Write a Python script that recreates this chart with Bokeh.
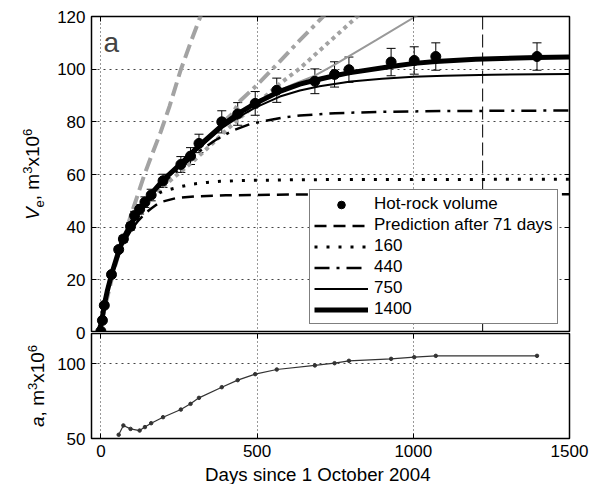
import math
from bokeh.plotting import figure
from bokeh.models import (Range1d, FixedTicker, LinearAxis, Label, Legend, LegendItem,
                          ColumnDataSource, Whisker, TeeHead, Span)
from bokeh.layouts import column, row
from bokeh.embed import file_html
from bokeh.resources import INLINE
from bokeh.core.properties import value

FONT = "Liberation Sans"

# ---------------- data ----------------
obs_days = [0, 5, 11, 34, 57, 72, 95, 108, 124, 141, 161, 199, 256, 287, 314, 387, 438,
            494, 563, 685, 748, 794, 929, 1003, 1072, 1396]
obs_vol = [0.5, 4.6, 10.3, 22.0, 31.5, 35.5, 40.3, 44.4, 46.8, 49.5, 52.2, 57.6, 63.8,
           67.0, 71.8, 80.0, 83.0, 87.0, 92.0, 95.4, 98.0, 99.8, 102.7, 103.3, 104.8, 104.8]
obs_err = [0.3, 0.4, 0.6, 0.8, 1.0, 1.2, 1.4, 1.6, 1.8, 2.0, 2.2, 2.5, 3.0, 3.2, 3.5, 4.2,
           4.3, 4.5, 4.6, 4.7, 4.8, 4.8, 5.2, 5.2, 5.2, 5.2]

# black model curves
c71_t = [-8, 0, 5, 11, 20, 34, 60, 80, 100, 120, 140, 160, 180, 200, 240, 300, 400, 600, 1000, 1500]
c71_v = [0, 3, 6, 10.5, 15.5, 21.5, 30.5, 35.5, 39.5, 42.5, 45, 47, 48.7, 49.8, 51, 51.7, 52.1, 52.4, 52.5, 52.5]

c160_t = [-8, 0, 5, 11, 20, 34, 60, 100, 130, 160, 190, 223, 260, 297, 340, 382, 450, 500, 621, 800, 1000, 1500]
c160_v = [0, 3, 6, 10.5, 15.5, 21.8, 31.7, 41, 46.3, 51.0, 53.2, 54.4, 55.5, 56.4, 57.0, 57.4, 57.7, 57.8, 58.0, 58.1, 58.1, 58.2]

c440_t = [-8, 0, 5, 11, 20, 34, 60, 100, 130, 160, 200, 257, 313, 366, 424, 478, 580, 637, 750, 900, 1100, 1500]
c440_v = [0, 3, 6, 10.5, 15.5, 21.8, 31.7, 41.5, 46.8, 51.7, 56.9, 62.8, 68.6, 73.0, 76.8, 79.2, 81.6, 82.4, 83.3, 83.8, 84.1, 84.3]

c750_t = [-8, 0, 5, 11, 20, 34, 60, 100, 130, 160, 200, 257, 313, 387, 438, 494, 573, 637, 700, 800, 900, 1000, 1100, 1250, 1500]
c750_v = [0, 3, 6, 10.5, 15.5, 21.8, 31.7, 41.6, 47, 52, 57.4, 63.6, 69.9, 77.6, 81.6, 85.4, 89.6, 91.9, 93.5, 95.3, 96.4, 97.1, 97.5, 97.9, 98.2]

c1400_t = [-8, 0, 5, 11, 20, 34, 60, 80, 100, 130, 160, 200, 257, 313, 387, 438, 494, 573, 637, 685, 748, 794, 929, 1003, 1072, 1200, 1396, 1500]
c1400_v = [0, 3, 6, 10.5, 15.5, 22, 32, 37.5, 42, 47.5, 52.5, 58, 64.2, 70.8, 78.6, 83.0, 87.0, 91.6, 94.3, 95.8, 97.5, 98.6, 101.0, 102.2, 102.9, 103.8, 104.4, 104.6]

# grey extrapolation curves
g71_t = [0, 20, 40, 60, 74, 96, 120, 138, 160, 191, 220, 255, 290, 325]
g71_v = [3, 13, 23, 31, 36, 44.5, 53, 59.5, 66.5, 76, 86, 99.5, 111, 122]

g160_t = [160, 200, 250, 300, 350, 403, 450, 500, 573, 637, 732, 830]
g160_v = [51.5, 55.5, 60.5, 65.5, 71, 77, 82, 87, 94.5, 100.3, 110.5, 121]

g440_t = [387, 420, 446, 500, 573, 637, 716]
g440_v = [79.5, 83, 88, 94, 103, 111, 120.5]

g750_t = [500, 573, 620, 679, 750, 800, 881, 1010, 1020]
g750_v = [87.5, 92, 94.5, 97.2, 101.8, 105.3, 111, 120.2, 120.8]

# asymptote a versus time (lower panel)
a_days = [57, 72, 95, 124, 141, 161, 199, 256, 287, 314, 387, 438, 494, 563, 685, 748,
          794, 929, 1003, 1072, 1396]
a_vals = [52.5, 58.7, 56.4, 55.3, 57.6, 60.2, 64.2, 69.3, 73.1, 77.1, 84.2, 88.9, 92.9,
          96.0, 98.7, 100.2, 101.8, 103.1, 104.2, 105.1, 105.1]

mark_day = 1222

x_ticks = [0, 500, 1000, 1500]
v_ticks = [0, 20, 40, 60, 80, 100, 120]
a_ticks = [50, 100]

legend_labels = ["Hot-rock volume", "Prediction after 71 days", "160", "440", "750", "1400"]
x_title = "Days since 1 October 2004"

GREY = "#a3a3a3"

# ---------------- layout geometry (pixels) ----------------
STRIP_W = 89          # left text strip
MAIN_W = 509          # plot column
TOP_H = 332
BOT_H = 131
TITLE_H = 21
TOTAL_H = TOP_H + BOT_H + TITLE_H
FRAME_L = 2           # inside plot column
FRAME_R = 29
TOP_T = 16
TOP_FRAME_H = TOP_H - TOP_T
BOT_FRAME_H = 105
X0, X1 = -30, 1500
V0, V1 = 0, 120
A0, A1 = 50, 120


def style_axis(ax, ticks, show_labels):
    ax.ticker = FixedTicker(ticks=ticks)
    ax.major_tick_in = 5
    ax.major_tick_out = 0
    ax.minor_tick_line_color = None
    ax.axis_line_color = None
    ax.major_tick_line_color = "black"
    ax.major_tick_line_width = 1
    if show_labels:
        ax.major_label_text_font = FONT
        ax.major_label_text_font_size = "17px"
        ax.major_label_text_color = "black"
        ax.major_label_standoff = 6
    else:
        ax.major_label_text_font_size = "1px"
        ax.major_label_text_color = None
        ax.major_label_standoff = 0


def hidden_axis(p, ticks, side):
    a = LinearAxis()
    style_axis(a, ticks, False)
    p.add_layout(a, side)


# ---------------- top panel ----------------
top = figure(width=MAIN_W, height=TOP_H, x_range=Range1d(X0, X1), y_range=Range1d(V0, V1),
             output_backend="svg", toolbar_location=None, x_axis_location=None,
             min_border_left=FRAME_L, min_border_right=FRAME_R, min_border_top=TOP_T,
             min_border_bottom=0)
top.outline_line_color = "black"
top.outline_line_width = 1.5
style_axis(top.yaxis[0], v_ticks, False)
hidden_axis(top, v_ticks, "right")
hidden_axis(top, x_ticks, "above")

top.xgrid.ticker = FixedTicker(ticks=[0, 500, 1000])
top.xgrid.grid_line_color = "#333333"
top.xgrid.grid_line_dash = "1 3"
top.ygrid.ticker = FixedTicker(ticks=[20, 40, 60, 80, 100])
top.ygrid.grid_line_color = "#444444"
top.ygrid.grid_line_dash = "2 4"

top.add_layout(Span(location=mark_day, dimension="height", line_color="black",
                    line_width=1, line_dash="13 5"))

# grey curves
top.line(g71_t, g71_v, line_color=GREY, line_width=4, line_dash="14 6")
top.line(g160_t, g160_v, line_color=GREY, line_width=4, line_dash="4 4")
top.line(g440_t, g440_v, line_color=GREY, line_width=4, line_dash="14 5 4 5")
top.line(g750_t, g750_v, line_color="#999999", line_width=2)

# black curves
r71 = top.line(c71_t, c71_v, line_color="black", line_width=2.5, line_dash="12 7")
r160 = top.line(c160_t, c160_v, line_color="black", line_width=3, line_dash="3 9")
r440 = top.line(c440_t, c440_v, line_color="black", line_width=2.5, line_dash="15 7 3 7")
r750 = top.line(c750_t, c750_v, line_color="black", line_width=2)
r1400 = top.line(c1400_t, c1400_v, line_color="black", line_width=5)

src = ColumnDataSource(data=dict(
    x=obs_days, y=obs_vol,
    upper=[v + e for v, e in zip(obs_vol, obs_err)],
    lower=[v - e for v, e in zip(obs_vol, obs_err)]))
top.add_layout(Whisker(source=src, base="x", upper="upper", lower="lower",
                       line_color="black", line_width=1,
                       upper_head=TeeHead(size=9, line_color="black", line_width=1),
                       lower_head=TeeHead(size=9, line_color="black", line_width=1)))
rpts = top.scatter("x", "y", source=src, size=10, marker="circle",
                   fill_color="black", line_color="black")

legend = Legend(items=[LegendItem(label=legend_labels[0], renderers=[rpts]),
                       LegendItem(label=legend_labels[1], renderers=[r71]),
                       LegendItem(label=legend_labels[2], renderers=[r160]),
                       LegendItem(label=legend_labels[3], renderers=[r440]),
                       LegendItem(label=legend_labels[4], renderers=[r750]),
                       LegendItem(label=legend_labels[5], renderers=[r1400])],
                location=(218, 8))
legend.label_text_font = FONT
legend.label_text_font_size = "17px"
legend.label_text_color = "black"
legend.glyph_width = 54
legend.glyph_height = 19
legend.label_height = 19
legend.spacing = 1
legend.padding = 4
legend.margin = 0
legend.label_standoff = 6
legend.border_line_color = "black"
legend.border_line_width = 1.5
legend.background_fill_alpha = 1
top.add_layout(legend)

top.add_layout(Label(x=12, y=290, x_units="screen", y_units="screen", text="a",
                     text_font=FONT, text_font_size="28px", text_baseline="alphabetic"))

# ---------------- bottom panel ----------------
bot = figure(width=MAIN_W, height=BOT_H, x_range=top.x_range, y_range=Range1d(A0, A1),
             output_backend="svg", toolbar_location=None,
             min_border_left=FRAME_L, min_border_right=FRAME_R, min_border_top=1,
             min_border_bottom=BOT_H - 1 - BOT_FRAME_H)
bot.outline_line_color = "black"
bot.outline_line_width = 1.5
style_axis(bot.yaxis[0], a_ticks, False)
style_axis(bot.xaxis[0], x_ticks, True)
hidden_axis(bot, a_ticks, "right")
hidden_axis(bot, x_ticks, "above")

bot.xgrid.ticker = FixedTicker(ticks=[0, 500, 1000])
bot.xgrid.grid_line_color = "#333333"
bot.xgrid.grid_line_dash = "1 3"
bot.ygrid.ticker = FixedTicker(ticks=[100])
bot.ygrid.grid_line_color = "#444444"
bot.ygrid.grid_line_dash = "2 4"

bot.line(a_days, a_vals, line_color="#333333", line_width=1.2)
bot.scatter(a_days, a_vals, size=3.5, marker="circle", fill_color="#333333", line_color="#333333")

# ---------------- title strip under the plots ----------------
# text_baseline "middle": centre of the text box sits about 0.35 em above the baseline
tstrip = figure(width=MAIN_W, height=TITLE_H, x_range=Range1d(0, MAIN_W), y_range=Range1d(0, TITLE_H),
                output_backend="svg", toolbar_location=None, x_axis_location=None,
                y_axis_location=None, min_border=0)
tstrip.grid.visible = False
tstrip.outline_line_color = None
tstrip.text(x=[FRAME_L + (MAIN_W - FRAME_L - FRAME_R) / 2], y=[10.5], text=[x_title],
            text_font=value(FONT), text_font_size="18.7px", text_align="center",
            text_baseline="middle", text_color="black")

# ---------------- left strip: tick labels and rotated axis titles ----------------
v_scale = TOP_FRAME_H / (V1 - V0)                 # px per unit, top panel
a_scale = BOT_FRAME_H / (A1 - A0)                 # px per unit, bottom panel
v_bottom_px = TOTAL_H - TOP_H                     # px from canvas bottom to V0
a_bottom_px = TOTAL_H - TOP_H - 1 - BOT_FRAME_H   # px from canvas bottom to A0
lstrip = figure(width=STRIP_W, height=TOTAL_H, x_range=Range1d(0, STRIP_W),
                y_range=Range1d(V0 - v_bottom_px / v_scale, V0 + (TOTAL_H - v_bottom_px) / v_scale),
                output_backend="svg", toolbar_location=None, x_axis_location=None,
                y_axis_location=None, min_border=0)
lstrip.extra_y_ranges = {
    "a": Range1d(A0 - a_bottom_px / a_scale, A0 + (TOTAL_H - a_bottom_px) / a_scale),
    "px": Range1d(0, TOTAL_H)}
lstrip.grid.visible = False
lstrip.outline_line_color = None

TICK_X = STRIP_W - 4
lstrip.text(x=[TICK_X] * len(v_ticks), y=v_ticks, text=[str(t) for t in v_ticks],
            text_font=value(FONT), text_font_size="17px", text_align="right",
            text_baseline="middle", text_color="black")
lstrip.text(x=[TICK_X] * len(a_ticks), y=a_ticks, text=[str(t) for t in a_ticks],
            text_font=value(FONT), text_font_size="17px", text_align="right",
            text_baseline="middle", text_color="black", y_range_name="a")

# rotated pieces, anchored on the middle line of each piece
HALF = math.pi / 2
pieces = [("V", "19px", "italic", 32.4, 264.4),
          ("e", "13px", "normal", 38.5, 277.1),
          (", m", "19px", "normal", 32.4, 284.3),
          ("3", "13px", "normal", 26.5, 310.7),
          ("x10", "19px", "normal", 32.4, 317.9),
          ("6", "13px", "normal", 26.5, 348.5),
          ("a", "19px", "italic", 37.4, 57.5),
          (", m", "19px", "normal", 37.4, 68.1),
          ("3", "13px", "normal", 31.5, 94.5),
          ("x10", "19px", "normal", 37.4, 101.7),
          ("6", "13px", "normal", 31.5, 132.3)]
for t, fs, st, xx, yy in pieces:
    lstrip.text(x=[xx], y=[yy], text=[t], angle=HALF, text_font=value(FONT),
                text_font_size=fs, text_font_style=st, text_align="left",
                text_baseline="middle", text_color="black", y_range_name="px")

layout = row(lstrip, column(top, bot, tstrip, spacing=0), spacing=0)
open("out.html", "w").write(file_html(layout, INLINE))
